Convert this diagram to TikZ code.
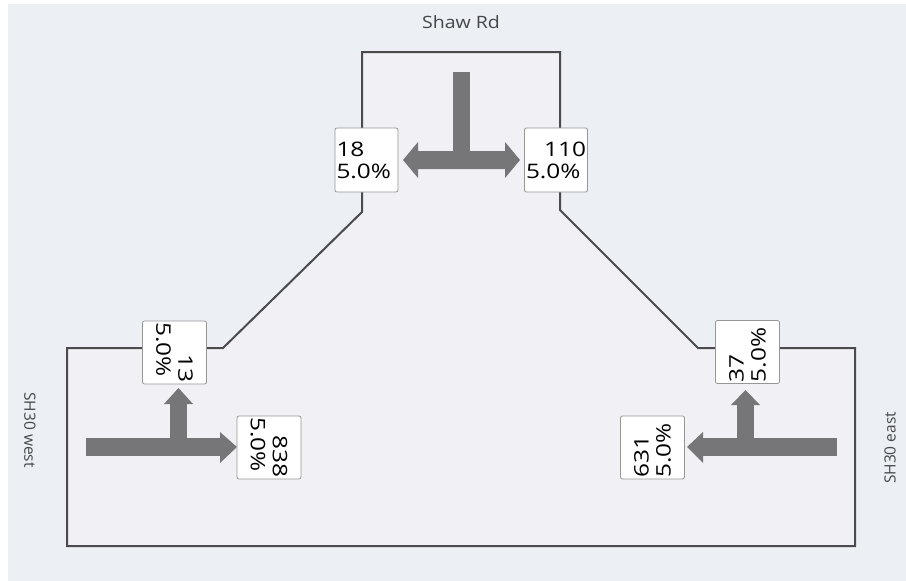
\documentclass[tikz,border=0pt]{standalone}
\usepackage{fontspec}
\usepackage{graphicx}
\setmainfont{Open Sans}
\definecolor{bgout}{RGB}{236,240,244}
\definecolor{bgin}{RGB}{241,240,244}
\definecolor{roadc}{RGB}{75,75,78}
\definecolor{arrowc}{RGB}{118,118,120}
\definecolor{boxc}{RGB}{150,150,150}
\definecolor{labc}{RGB}{70,70,72}
\newcommand{\sxt}[1]{\scalebox{1.22}[1]{#1}}
\newcommand{\lnl}[1]{\makebox[60pt][l]{\sxt{#1}}}
\newcommand{\lnr}[1]{\makebox[60pt][r]{\sxt{#1}}}
\tikzset{
  countbox/.style={draw=boxc, fill=white, line width=0.8pt, rounded corners=2pt,
    minimum width=63pt, minimum height=64pt, inner sep=0.5pt, align=left,
    font=\fontsize{20}{22}\selectfont, text=black},
  road/.style={draw=roadc, line width=2pt, line join=miter},
  flow/.style={fill=arrowc},
  roadlabel/.style={text=labc, inner sep=0pt}
}
\begin{document}
\begin{tikzpicture}[x=1pt,y=-1pt]
\useasboundingbox (0,0) rectangle (906,581);
\fill[white] (0,0) rectangle (906,581);
\fill[bgout] (8,4) rectangle (906,581);
% road outline
\fill[bgin] (67,348) -- (223,348) -- (362,212) -- (362,52) -- (560,52) -- (560,210)
  -- (698,348) -- (855,348) -- (855,546) -- (67,546) -- cycle;
\draw[road] (67,348) -- (223,348) -- (362,212) -- (362,52) -- (560,52) -- (560,210)
  -- (698,348) -- (855,348) -- (855,546) -- (67,546) -- cycle;
% top flows
\fill[flow] (453,72) rectangle (470,160);
\fill[flow] (403,160) -- (418,142) -- (418,151) -- (505,151) -- (505,142) -- (520,160)
  -- (505,178) -- (505,169) -- (418,169) -- (418,178) -- cycle;
% left flows
\fill[flow] (86,438) rectangle (221,456);
\fill[flow] (220,432) -- (237,447) -- (220,463) -- cycle;
\fill[flow] (170,404) rectangle (187,448);
\fill[flow] (164,404) -- (178.5,388) -- (193,404) -- cycle;
% right flows
\fill[flow] (702,438) rectangle (837,456);
\fill[flow] (703,432) -- (687,447) -- (703,463) -- cycle;
\fill[flow] (737,405) rectangle (754,448);
\fill[flow] (731,405) -- (745.5,390) -- (760,405) -- cycle;
% count boxes
\node[countbox] (b18) at (366.5,160) {\lnl{18}\\\lnl{5.0\%}};
\node[countbox] (b110) at (556,160) {\lnr{110}\\\lnl{5.0\%}};
\node[countbox, rotate=-90] (b13) at (174.5,352.5) {\lnr{13}\\\lnl{5.0\%}};
\node[countbox, rotate=-90] (b838) at (269,447.5) {\lnr{838}\\\lnl{5.0\%}};
\node[countbox, rotate=90] (b37) at (747.5,352) {\lnl{37}\\\lnl{5.0\%}};
\node[countbox, rotate=90] (b631) at (652.5,447.5) {\lnl{631}\\\lnl{5.0\%}};
% road labels
\node[roadlabel, font=\fontsize{17}{20}\selectfont] (shaw) at (461,22) {\scalebox{1.15}[1]{Shaw Rd}};
\node[roadlabel, font=\fontsize{15.5}{18}\selectfont, rotate=-90] (west) at (30,430) {SH30 west};
\node[roadlabel, font=\fontsize{15.5}{18}\selectfont, rotate=90] (east) at (890,448) {SH30 east};
\end{tikzpicture}
\end{document}
